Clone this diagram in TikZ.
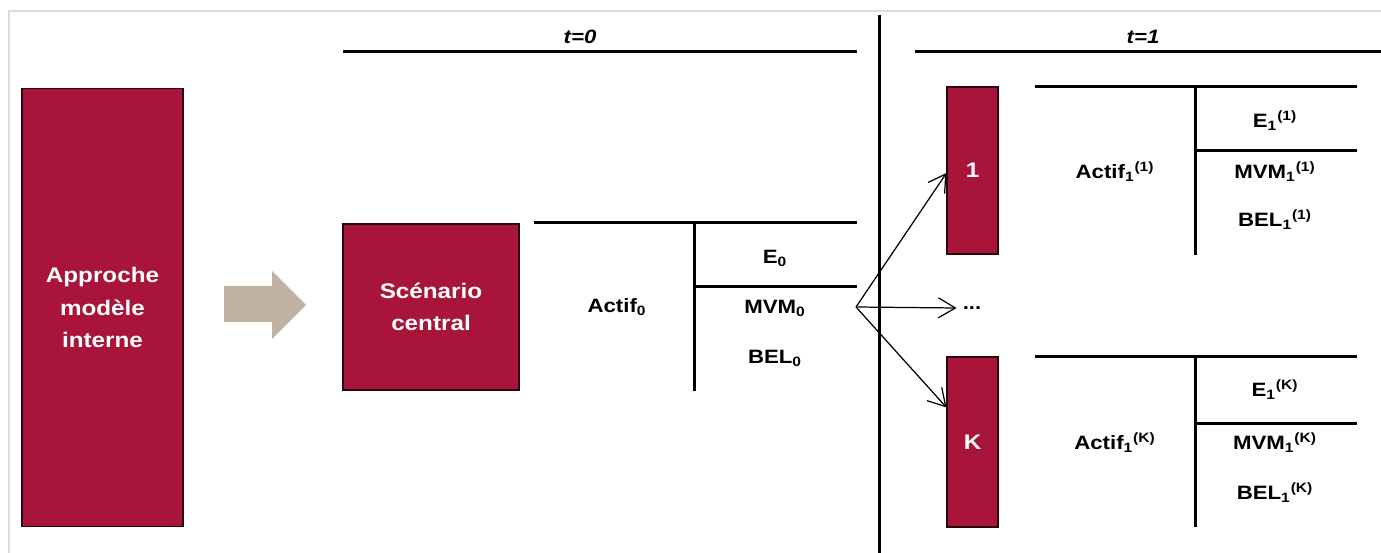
\documentclass[tikz,border=0pt]{standalone}
\usepackage{fontspec}
\setmainfont{Liberation Sans}[FakeStretch=1.15]
\usetikzlibrary{arrows.meta}
\definecolor{imBordeaux}{HTML}{A8143A}
\definecolor{imTaupe}{HTML}{C1B3A4}
\definecolor{imFrame}{HTML}{D5DCEA}

\begin{document}
\begin{tikzpicture}[x=0.02cm, y=-0.02cm,
    every node/.style={font=\bfseries\fontsize{11}{13}\selectfont},
    scenbox/.style={draw=black!75!imBordeaux, fill=imBordeaux, text=white, inner sep=0pt,
      align=center, line width=0.6pt, font=\bfseries\fontsize{12}{18.4}\selectfont},
    tabline/.style={line width=0.06cm},
    fork/.style={-{Straight Barb[length=0.34cm,width=0.4cm]}, line width=0.7pt},
    timelabel/.style={font=\bfseries\itshape\fontsize{11}{13}\selectfont}]
    \useasboundingbox (0,0) rectangle (1381,553);
    \draw[imFrame, line width=0.03cm] (9,553) -- (9,11) -- (1381,11);
    % internal model + central scenario
    \node[scenbox, minimum width=3.22cm, minimum height=8.78cm] (approche) at (102.5,307.5) {Approche\\modèle\\interne};
    \fill[imTaupe] (224,286) -- (272,286) -- (272,271) -- (306,305) -- (272,339) -- (272,322) -- (224,322) -- cycle;
    \node[scenbox, minimum width=3.52cm, minimum height=3.32cm] (scen) at (431,307) {Scénario\\central};
    % time axis
    \draw[tabline] (343,52) -- (857,52);
    \node[timelabel] (t0) at (580,37) {t=0};
    \draw[tabline] (915,52) -- (1381,52);
    \node[timelabel] (t1) at (1143,37) {t=1};
    \draw[tabline] (879,15) -- (879,553);
    % balance sheet t=0
    \draw[tabline] (534,223) -- (857,223);
    \draw[tabline] (694,223) -- (694,391);
    \draw[tabline] (694,287) -- (857,287);
    \node (actif0) at (617,307) {Actif\textsubscript{0}};
    \node (e0) at (775,258) {E\textsubscript{0}};
    \node (mvm0) at (775,308) {MVM\textsubscript{0}};
    \node (bel0) at (775,358) {BEL\textsubscript{0}};
    % scenarios at t=1
    \node[scenbox, minimum width=1.02cm, minimum height=3.34cm] (box1) at (972.5,170.5) {1};
    \node[scenbox, minimum width=1.02cm, minimum height=3.4cm] (boxK) at (972.5,442) {K};
    \node (dots) at (972,308) {...};
    \coordinate (fork0) at (856,307);
    \draw[fork] (fork0) -- ([yshift=-0.05cm]box1.west);
    \draw[fork] (fork0) -- (dots.west);
    \draw[fork] (fork0) -- ([yshift=-1.02cm]boxK.north west);
    % balance sheet scenario 1
    \draw[tabline] (1035,87) -- (1357,87);
    \draw[tabline] (1195,87) -- (1195,255);
    \draw[tabline] (1195,151) -- (1357,151);
    \node (actif1) at (1115,172) {Actif\textsubscript{1}\textsuperscript{(1)}};
    \node (e1) at (1275,121) {E\textsubscript{1}\textsuperscript{(1)}};
    \node (mvm1) at (1275,172) {MVM\textsubscript{1}\textsuperscript{(1)}};
    \node (bel1) at (1275,220) {BEL\textsubscript{1}\textsuperscript{(1)}};
    % balance sheet scenario K
    \draw[tabline] (1035,357) -- (1357,357);
    \draw[tabline] (1195,357) -- (1195,527);
    \draw[tabline] (1195,423) -- (1357,423);
    \node (actifK) at (1115,443) {Actif\textsubscript{1}\textsuperscript{(K)}};
    \node (eK) at (1275,390) {E\textsubscript{1}\textsuperscript{(K)}};
    \node (mvmK) at (1275,443) {MVM\textsubscript{1}\textsuperscript{(K)}};
    \node (belK) at (1275,493) {BEL\textsubscript{1}\textsuperscript{(K)}};
\end{tikzpicture}
\end{document}
